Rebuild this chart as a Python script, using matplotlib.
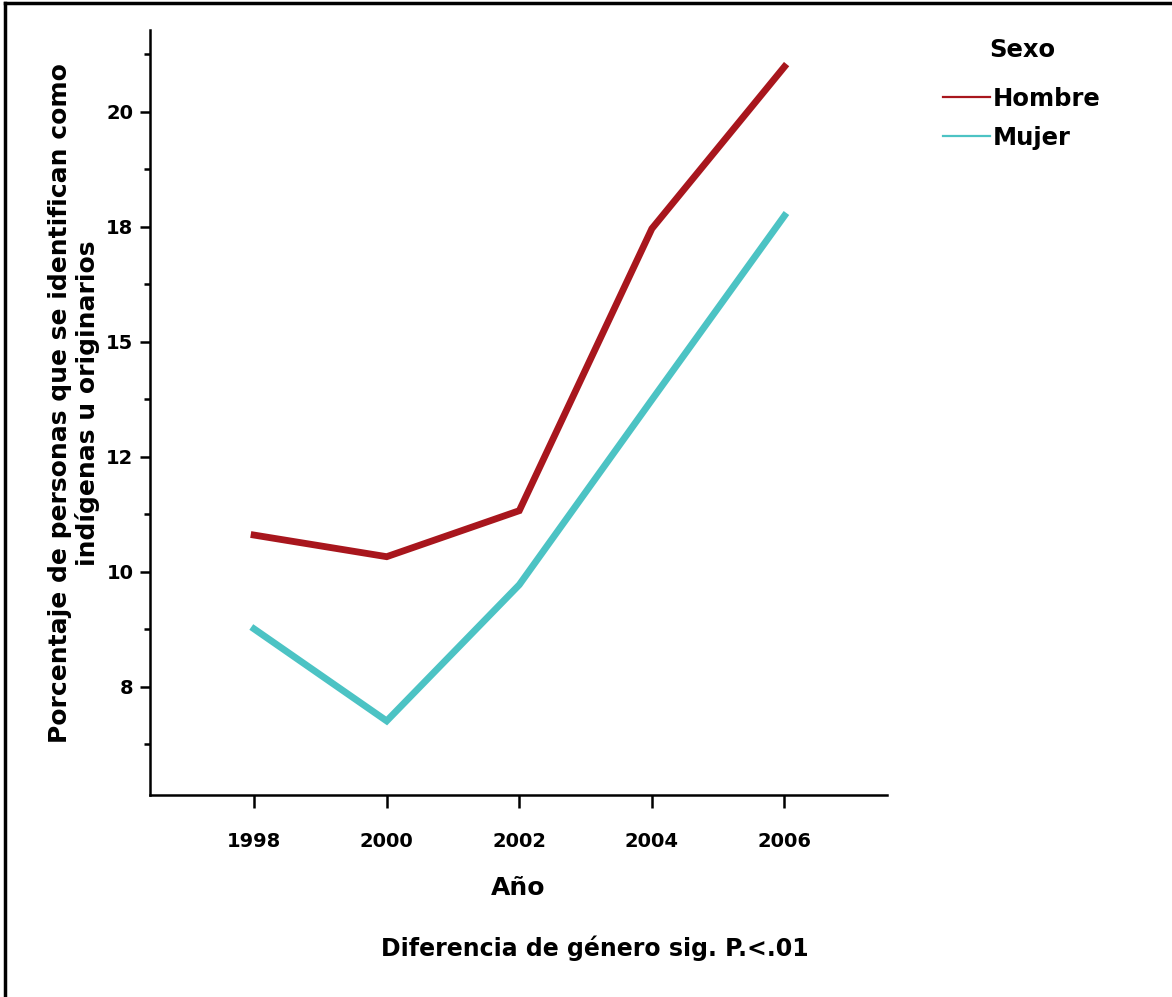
import matplotlib
matplotlib.use('Agg')
import matplotlib.pyplot as plt
from matplotlib.lines import Line2D

# data
years = [1998, 2000, 2002, 2004, 2006]
hombre = [10.8, 10.33, 11.33, 17.46, 20.98]
mujer = [8.76, 6.76, 9.72, 13.74, 17.74]

series_names = ['Hombre', 'Mujer']
series_colors = ['#a8161d', '#4cc3c4']

ytick_vals = [7.5, 10, 12.5, 15, 17.5, 20]
ytick_labels = ['8', '10', '12', '15', '18', '20']
yminor_vals = [6.25, 8.75, 11.25, 13.75, 16.25, 18.75, 21.25]

plt.rcParams['font.family'] = 'DejaVu Sans'
plt.rcParams['font.weight'] = 'bold'

fig = plt.figure(figsize=(11.72, 9.97), dpi=100)
ax = fig.add_axes([0.128, 0.2026, 0.629, 0.7674])

for vals, name, col in zip([hombre, mujer], series_names, series_colors):
    ax.plot(years, vals, color=col, linewidth=4.9, label=name,
            solid_joinstyle='miter')

ax.set_xlim(1996.43, 2007.55)
ax.set_ylim(5.15, 21.78)

ax.set_xticks(years)
ax.set_xticklabels([str(y) for y in years], fontsize=14, fontweight='bold')
ax.set_yticks(ytick_vals)
ax.set_yticklabels(ytick_labels, fontsize=14, fontweight='bold')
ax.set_yticks(yminor_vals, minor=True)

ax.tick_params(axis='x', direction='out', length=9.5, width=1.8, pad=17)
ax.tick_params(axis='y', which='major', direction='out', length=7, width=1.8, pad=5)
ax.tick_params(axis='y', which='minor', direction='out', length=4, width=1.8)

for side in ['top', 'right']:
    ax.spines[side].set_visible(False)
for side in ['left', 'bottom']:
    ax.spines[side].set_linewidth(1.8)

ax.set_xlabel('Año', fontsize=18, fontweight='bold', labelpad=18)

fig.text(74 / 1172, 1 - 403 / 997,
         'Porcentaje de personas que se identifican como\nindígenas u originarios',
         rotation=90, ha='center', va='center', multialignment='center',
         fontsize=18, fontweight='bold', linespacing=1.12)

fig.text(595 / 1172, 1 - 948 / 997, 'Diferencia de género sig. P.<.01',
         ha='center', va='center', fontsize=17, fontweight='bold')

# legend with thin handle lines, title drawn separately
handles = [Line2D([], [], color=c, linewidth=1.6) for c in series_colors]
leg = fig.legend(handles, series_names, loc='upper left',
                 bbox_to_anchor=(921 / 1172, 1 - 65 / 997),
                 frameon=False, fontsize=17.5,
                 handlelength=1.95, handletextpad=0.1, labelspacing=0.62)
for t in leg.get_texts():
    t.set_fontweight('bold')
fig.text(1022 / 1172, 1 - 50 / 997, 'Sexo', ha='center', va='center',
         fontsize=17.5, fontweight='bold')

# partial frame border at top and left
fig.add_artist(Line2D([5 / 1172, 1], [1 - 3 / 997, 1 - 3 / 997],
                      transform=fig.transFigure, color='black', linewidth=2.5))
fig.add_artist(Line2D([5 / 1172, 5 / 1172], [0, 1 - 3 / 997],
                      transform=fig.transFigure, color='black', linewidth=2.5))

fig.savefig('out.png', dpi=100)
